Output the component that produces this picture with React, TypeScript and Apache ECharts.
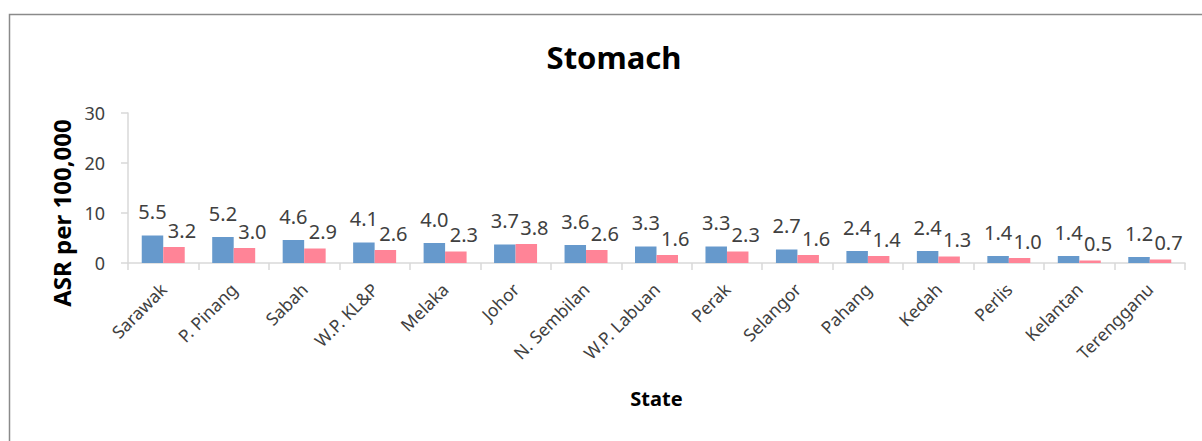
import React, { useEffect, useRef } from "react";
import * as echarts from "echarts";

const states = [
  "Sarawak", "P. Pinang", "Sabah", "W.P. KL&P", "Melaka", "Johor", "N. Sembilan",
  "W.P. Labuan", "Perak", "Selangor", "Pahang", "Kedah", "Perlis", "Kelantan", "Terengganu",
];
const maleASR = [5.5, 5.2, 4.6, 4.1, 4.0, 3.7, 3.6, 3.3, 3.3, 2.7, 2.4, 2.4, 1.4, 1.4, 1.2];
const femaleASR = [3.2, 3.0, 2.9, 2.6, 2.3, 3.8, 2.6, 1.6, 2.3, 1.6, 1.4, 1.3, 1.0, 0.5, 0.7];
const yTicks = { min: 0, max: 30, interval: 10 };

const FONT = "'Noto Sans', 'Open Sans', sans-serif";
const TEXT = "#404040";
const AXIS = "#D9D9D9";

export default function App() {
  const ref = useRef<HTMLDivElement>(null);
  useEffect(() => {
    document.body.style.margin = "0";
    document.body.style.overflow = "hidden";
    const chart = echarts.init(ref.current!, null, { renderer: "svg" });
    const labelFmt = (p: any) => Number(p.value).toFixed(1);
    chart.setOption({
      animation: false,
      backgroundColor: "#fff",
      textStyle: { fontFamily: FONT },
      title: {
        text: "Stomach",
        left: 609,
        top: 36,
        textAlign: "center",
        textStyle: { fontFamily: FONT, fontSize: 31, fontWeight: "bold", color: "#000" },
      },
      graphic: [
        {
          type: "rect",
          shape: { x: 9.5, y: 14.5, width: 1400, height: 600 },
          style: { fill: "none", stroke: "#8a8a8a", lineWidth: 1.5 },
          silent: true,
        },
        {
          type: "text",
          x: 61,
          y: 213,
          rotation: Math.PI / 2,
          style: {
            text: "ASR per 100,000",
            fontFamily: FONT,
            fontSize: 24,
            fontWeight: "bold",
            fill: "#000",
            align: "center",
            verticalAlign: "middle",
          },
        },
      ],
      grid: { left: 128, right: 17, top: 113, bottom: 178 },
      xAxis: {
        type: "category",
        data: states,
        name: "State",
        nameLocation: "middle",
        nameGap: 125,
        nameTextStyle: { fontFamily: FONT, fontSize: 20, fontWeight: "bold", color: "#000" },
        axisLine: { lineStyle: { color: AXIS, width: 1.5 } },
        axisTick: { show: true, length: 7, lineStyle: { color: AXIS, width: 1.5 } },
        axisLabel: { rotate: 45, margin: 23, fontFamily: FONT, fontSize: 17.5, color: TEXT, interval: 0 },
      },
      yAxis: {
        type: "value",
        min: yTicks.min,
        max: yTicks.max,
        interval: yTicks.interval,
        axisLine: { show: true, lineStyle: { color: AXIS, width: 1.5 } },
        axisTick: { show: true, length: 7, lineStyle: { color: AXIS, width: 1.5 } },
        splitLine: { show: false },
        axisLabel: { margin: 23, fontFamily: FONT, fontSize: 18, color: TEXT },
      },
      series: [
        {
          name: "Male",
          type: "bar",
          data: maleASR,
          barGap: "0%",
          barCategoryGap: "39%",
          itemStyle: { color: "#6699CC" },
          label: { show: true, position: "top", distance: 14, formatter: labelFmt, fontFamily: FONT, fontSize: 20, color: TEXT },
        },
        {
          name: "Female",
          type: "bar",
          data: femaleASR,
          barGap: "0%",
          barCategoryGap: "39%",
          itemStyle: { color: "#FF8497" },
          label: { show: true, position: "top", distance: 7, offset: [8, 0], formatter: labelFmt, fontFamily: FONT, fontSize: 20, color: TEXT },
        },
      ],
    });
    return () => chart.dispose();
  }, []);
  return <div ref={ref} style={{ width: 1202, height: 441 }} />;
}
